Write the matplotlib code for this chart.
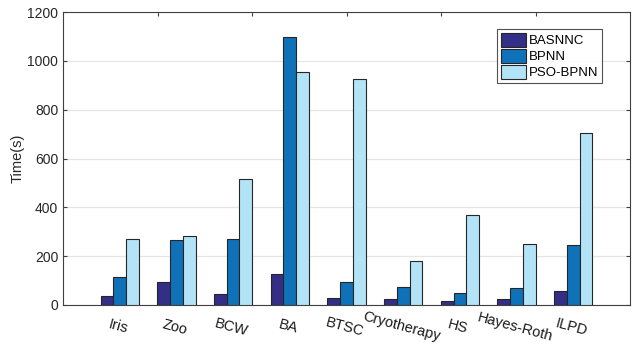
import numpy as np
import matplotlib.pyplot as plt

plt.rcParams['font.family'] = ['Liberation Sans', 'DejaVu Sans']

datasets = ['Iris', 'Zoo', 'BCW', 'BA', 'BTSC', 'Cryotherapy', 'HS', 'Hayes-Roth', 'ILPD']
basnnc = [37, 95, 44, 127, 29, 26, 16, 26, 57]
bpnn = [115, 266, 271, 1098, 95, 72, 49, 70, 247]
pso_bpnn = [271, 281, 517, 956, 926, 180, 368, 250, 704]

series = [('BASNNC', basnnc, '#332e86'),
          ('BPNN', bpnn, '#0f72b8'),
          ('PSO-BPNN', pso_bpnn, '#b3e3f6')]

fig = plt.figure(figsize=(6.33, 3.44), dpi=100)
ax = fig.add_axes([63 / 633, 1 - 305 / 344, 567 / 633, 293 / 344])

x = 1.2 * np.arange(1, len(datasets) + 1)
w = 0.27
for k, (name, vals, col) in enumerate(series):
    ax.bar(x + (k - 1) * w, vals, width=w, color=col, edgecolor='#262626',
           linewidth=0.8, label=name, zorder=3)

ax.set_xlim(0, 12)
ax.set_ylim(0, 1200)
ax.set_yticks(np.arange(0, 1201, 200))
ax.yaxis.grid(True, color='#e6e6e6', linewidth=0.9, zorder=0)
ax.tick_params(axis='y', direction='in', length=3, colors='#404040',
               labelsize=10, right=True, labelcolor='#262626')
ax.set_xticks(x)
ax.set_xticklabels(datasets, rotation=-15, ha='center', va='top',
                   rotation_mode='anchor', fontsize=10.5, color='#1a1a1a')
ax.tick_params(axis='x', length=0, pad=11)

# top ticks like the original box
top = ax.secondary_xaxis('top')
top.set_xticks([2, 4, 6, 8, 10])
top.tick_params(direction='in', length=3, labeltop=False, colors='#404040')
top.spines['top'].set_visible(False)

for s in ax.spines.values():
    s.set_color('#404040')
    s.set_linewidth(0.8)

ax.set_ylabel('Time(s)', fontsize=10.5, color='#262626', labelpad=2)

leg = ax.legend(loc='upper left', bbox_to_anchor=(434 / 567, 1 - 17 / 293),
                fontsize=9.5, frameon=True, fancybox=False, edgecolor='#262626',
                handlelength=1.9, handleheight=1.25, handletextpad=0.2,
                labelspacing=0.12, borderpad=0.3, borderaxespad=0)
leg.get_frame().set_linewidth(0.8)

fig.savefig('out.png', dpi=100)
